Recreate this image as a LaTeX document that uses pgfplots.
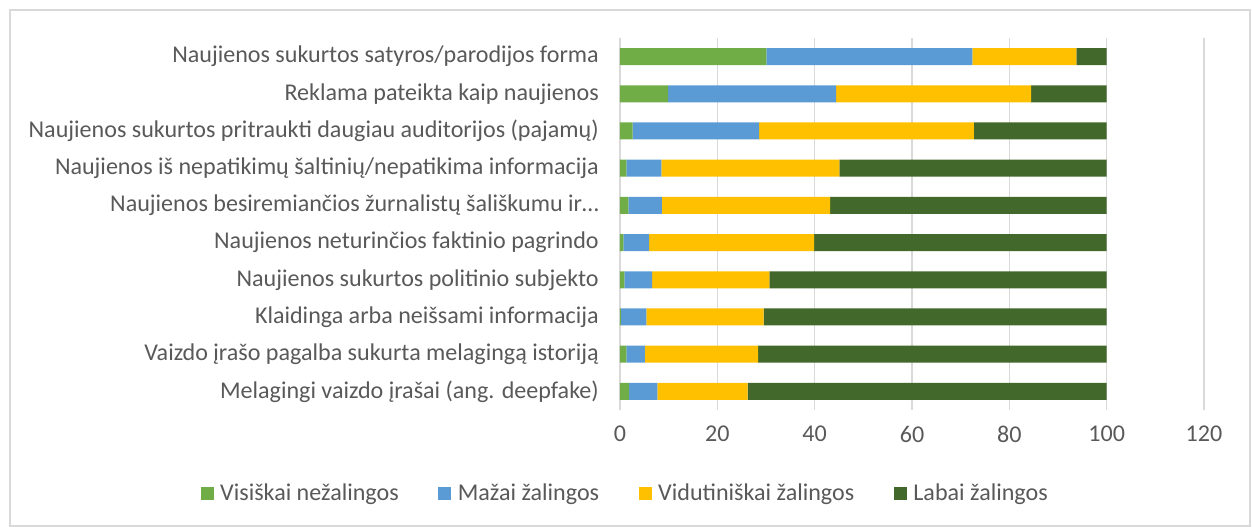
\documentclass[border=0pt]{standalone}
\usepackage{pgfplots}
\pgfplotsset{compat=1.18}
\usepackage{fontspec}
\setmainfont{Carlito}

\definecolor{cGreen}{HTML}{70AD47}
\definecolor{cBlue}{HTML}{5B9BD5}
\definecolor{cYellow}{HTML}{FFC000}
\definecolor{cDark}{HTML}{43682B}
\definecolor{txt}{HTML}{595959}
\definecolor{gridc}{HTML}{D9D9D9}

% rows from bottom (0) to top (9)
\pgfplotstableread{
y  vis   maz   vid   lab
0  1.9   5.8   18.5  73.8
1  1.3   3.8   23.3  71.6
2  0.2   5.2   24.1  70.5
3  0.9   5.7   24.1  69.3
4  0.7   5.3   33.9  60.1
5  1.7   6.9   34.6  56.8
6  1.3   7.2   36.6  54.9
7  2.6   26.0  44.1  27.3
8  9.9   34.5  40.1  15.5
9  30.1  42.3  21.4  6.2
}\datatable

\begin{document}
\begin{tikzpicture}
\path (0,0) rectangle (25.04cm,10.54cm);
\draw[gridc, line width=0.6pt] (0.2cm,0.02cm) rectangle (25cm,10.34cm);
\begin{axis}[
    at={(12.4cm,2.34cm)}, anchor=south west,
    scale only axis,
    width=11.68cm, height=7.44cm,
    xbar stacked,
    bar width=0.34cm,
    xmin=0, xmax=120,
    xtick={0,20,...,120},
    ymin=-0.5, ymax=9.5,
    ytick={0,...,9},
    yticklabels={
        {Melagingi vaizdo įrašai (ang. deepfake)},
        {Vaizdo įrašo pagalba sukurta melagingą istoriją},
        {Klaidinga arba neišsami informacija},
        {Naujienos sukurtos politinio subjekto},
        {Naujienos neturinčios faktinio pagrindo},
        {Naujienos besiremiančios žurnalistų šališkumu ir…},
        {Naujienos iš nepatikimų šaltinių/nepatikima informacija},
        {Naujienos sukurtos pritraukti daugiau auditorijos (pajamų)},
        {Reklama pateikta kaip naujienos},
        {Naujienos sukurtos satyros/parodijos forma}},
    axis line style={draw=none},
    major tick length=0pt,
    xmajorgrids,
    major grid style={gridc, line width=0.8pt},
    tick label style={font=\fontsize{13.7}{15}\selectfont, text=txt},
    yticklabel style={xshift=-0.3cm},
    xticklabel style={yshift=-0.2cm},
    /pgf/number format/assume math mode=true,
    legend columns=4,
    legend style={at={(0.0103,-0.225)}, anchor=center, draw=none,
        font=\fontsize{13.7}{15}\selectfont, text=txt,
        /tikz/every odd column/.append style={column sep=0.06cm},
        /tikz/every even column/.append style={column sep=0.72cm}},
    legend image code/.code={\fill[#1] (0cm,-0.13cm) rectangle (0.26cm,0.13cm);},
]
\addplot[fill=cGreen, draw=none] table[x=vis, y=y] {\datatable};
\addplot[fill=cBlue, draw=none] table[x=maz, y=y] {\datatable};
\addplot[fill=cYellow, draw=none] table[x=vid, y=y] {\datatable};
\addplot[fill=cDark, draw=none] table[x=lab, y=y] {\datatable};
\legend{Visiškai nežalingos, Mažai žalingos, Vidutiniškai žalingos, Labai žalingos}
\end{axis}
\end{tikzpicture}
\end{document}
